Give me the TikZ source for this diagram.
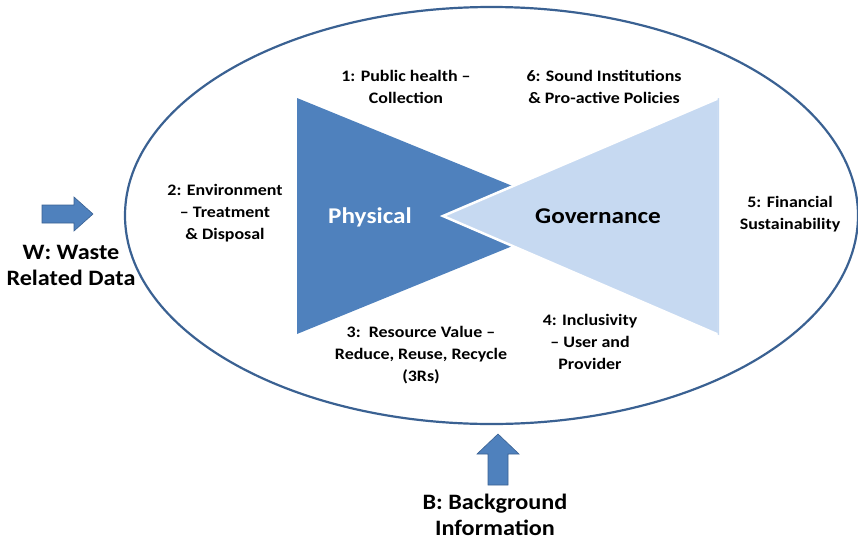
\documentclass[tikz,border=0pt]{standalone}
\usepackage{fontspec}
\setmainfont{Carlito}
\newfontfamily\wf[FakeStretch=1.12]{Carlito}
\newfontfamily\wg[FakeStretch=1.1]{Carlito}
\usetikzlibrary{shapes.arrows}
\definecolor{darkb}{HTML}{4F81BD}
\definecolor{lightb}{HTML}{C6D9F1}
\definecolor{lineb}{HTML}{3A6192}
\begin{document}
\begin{tikzpicture}[x=1pt,y=-1pt,
  lbl/.style={align=center,font=\wf\fontsize{16}{21.8}\selectfont\bfseries,inner sep=0pt},
  big/.style={align=center,font=\wg\fontsize{22}{26}\selectfont\bfseries,inner sep=0pt},
  tri/.style={font=\wf\fontsize{22.5}{26}\selectfont\bfseries,inner sep=0pt}]
\useasboundingbox (0,0) rectangle (858,541);
\draw[lineb,line width=2.2pt] (491.5,215.5) ellipse [x radius=366.5, y radius=208.5];
% triangles
\fill[darkb] (297,98) -- (297,334) -- (586,216) -- cycle;
\draw[white,line width=2.5pt,fill=lightb,line join=miter] (719,98) -- (719,335) -- (443,216) -- cycle;
\fill[white] (720.3,90) rectangle (730,345);
\fill[lightb] (719,98) -- (719,335) -- (717.6,334.4) -- (717.6,98.6) -- cycle;
\node[tri,text=white] (phys) at (370,217) {Physical};
\node[tri] (gov) at (598,216) {Governance};
% labels
\node[lbl] (l1) at (406,87) {1: Public health –\\Collection};
\node[lbl] (l6) at (604,87) {6: Sound Institutions\\\& Pro-active Policies};
\node[lbl] (l2) at (225,213) {2: Environment\\– Treatment\\\& Disposal};
\node[lbl] (l5) at (790,214) {5: Financial\\Sustainability};
\node[lbl] (l3) at (421,355) {3:\ \ Resource Value –\\Reduce, Reuse, Recycle\\(3Rs)};
\node[lbl] (l4) at (590,342) {4: Inclusivity\\– User and\\Provider};
\node[big] (w) at (71,265) {W: Waste\\Related Data};
\node[big] (b) at (495,515) {B: Background\\Information};
% arrows
\draw[lineb,line width=0.6pt,fill=darkb] (42,205) -- (74,205) -- (74,197) -- (93,214) -- (74,231) -- (74,223) -- (42,223) -- cycle;
\draw[lineb,line width=0.6pt,fill=darkb] (488,485) -- (488,454) -- (477,454) -- (498,434) -- (519,454) -- (508,454) -- (508,485) -- cycle;
\end{tikzpicture}
\end{document}
